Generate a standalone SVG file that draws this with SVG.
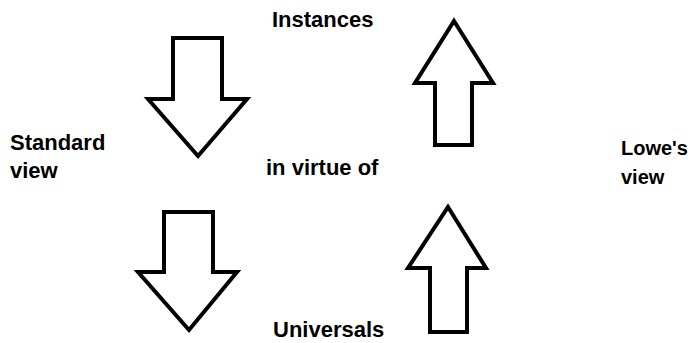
<svg xmlns="http://www.w3.org/2000/svg" width="693" height="343" viewBox="0 0 693 343">
<style>
.arrow{fill:#fff;stroke:#000;stroke-width:4;stroke-linejoin:miter}
.lbl{font-family:"Liberation Sans",Arial,sans-serif;font-weight:bold;font-size:22px;fill:#000}
.sm{font-size:20px}
</style>
<rect width="693" height="343" fill="#fff"/>
<g id="connectors">
<g id="arrow-std-top"><polygon class="arrow" points="173,38 222,38 222,99 247,99 198,156 148,99 173,99"/></g>
<g id="arrow-lowe-top"><polygon class="arrow" points="454,21 493,83 472,83 472,145 435,145 435,83 415,83"/></g>
<g id="arrow-std-bottom"><polygon class="arrow" points="164,212 213,212 213,272 237,272 189,330 138,272 164,272"/></g>
<g id="arrow-lowe-bottom"><polygon class="arrow" points="448,207 486,268 467,268 467,332 430,332 430,268 408,268"/></g>
</g>
<g id="instances"><text class="lbl" x="272" y="27">Instances</text></g>
<g id="standard-view"><text class="lbl" x="10" y="150">Standard</text><text class="lbl" x="10" y="178">view</text></g>
<g id="in-virtue-of"><text class="lbl" x="266" y="175">in virtue of</text></g>
<g id="lowes-view"><text class="lbl sm" x="621" y="155">Lowe's</text><text class="lbl sm" x="621" y="184">view</text></g>
<g id="universals"><text class="lbl" x="273" y="337">Universals</text></g>
</svg>
